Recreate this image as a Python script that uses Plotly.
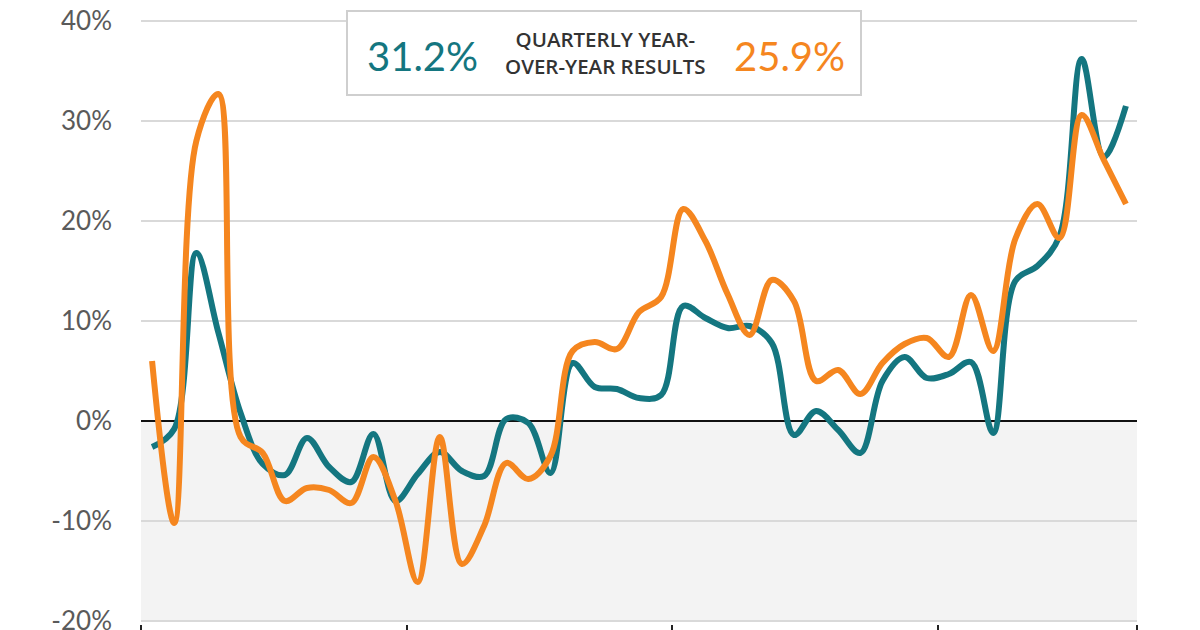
import plotly.graph_objects as go

# quarterly year-over-year change, in percent
quarters = list(range(45))

teal_values = [-2.6, -0.8, 16.8, 8.8, 0.8, -4.3, -5.4, -1.7, -4.6, -6.1,
               -1.3, -8.0, -5.3, -3.1, -5.0, -5.5, 0.2, -0.2, -5.2, 5.8,
               3.4, 3.2, 2.3, 2.6, 11.5, 10.3, 9.3, 9.5, 7.8, -1.4,
               1.0, -0.9, -3.2, 4.0, 6.4, 4.3, 4.7, 5.9, -1.2, 14.0,
               15.5, 18.5, 36.2, 26.4, 31.5]

orange_values = [6.0, -10.2, 28.0, 32.7, -1.6, -3.2, -8.0, -6.7, -6.9, -8.2,
                 -3.6, -8.0, -16.1, -1.6, -14.3, -10.5, -4.2, -5.8, -3.5, 7.0,
                 7.9, 7.2, 10.9, 12.4, 21.2, 18.0, 12.7, 8.6, 14.1, 12.0,
                 4.0, 5.1, 2.7, 5.8, 7.7, 8.3, 6.4, 12.6, 7.0, 18.2,
                 21.7, 18.3, 30.6, 26.1, 21.7]

x_ticks = [-0.5, 11.5, 23.5, 35.5, 44.5]
y_ticks = [-20, -10, 0, 10, 20, 30, 40]
y_tick_text = ["-20%", "-10%", "0%", "10%", "20%", "30%", "40%"]

teal_label = "31.2%"
orange_label = "25.9%"
header_text = "QUARTERLY YEAR-<br>OVER-YEAR RESULTS"

TEAL = "#147680"
ORANGE = "#F5861F"
FONT = "Lato"

# the page body has an 8px margin, so the margins are shifted to compensate.
# y range is padded 0.3 (3px) each side so the 40% and -20% grid lines get drawn
L, T = 133, 10
PW, PH = 996, 606

def px_x(x):
    return (x - 8 - L) / PW

def px_y(y):
    return (T + PH - (y - 8)) / PH

fig = go.Figure()

fig.add_trace(go.Scatter(x=quarters, y=teal_values, mode="lines",
                         line=dict(color=TEAL, width=6, shape="spline", smoothing=1),
                         hoverinfo="skip"))
fig.add_trace(go.Scatter(x=quarters, y=orange_values, mode="lines",
                         line=dict(color=ORANGE, width=6, shape="spline", smoothing=1),
                         hoverinfo="skip"))

# grey band under zero
fig.add_shape(type="rect", xref="paper", yref="y", x0=0, x1=1, y0=-20, y1=0,
              fillcolor="#f3f3f3", line_width=0, layer="below")

# legend box at the top
fig.add_shape(type="rect", xref="paper", yref="paper",
              x0=px_x(347), x1=px_x(861), y0=px_y(95), y1=px_y(11),
              fillcolor="white", line=dict(color="#cfcfcf", width=2), layer="above")

fig.add_annotation(text=teal_label, xref="paper", yref="paper",
                   x=px_x(422), y=px_y(56),
                   xanchor="center", yanchor="middle", showarrow=False,
                   font=dict(family=FONT, size=40, color=TEAL))
fig.add_annotation(text=orange_label, xref="paper", yref="paper",
                   x=px_x(789), y=px_y(56),
                   xanchor="center", yanchor="middle", showarrow=False,
                   font=dict(family=FONT, size=40, color=ORANGE))
fig.add_annotation(text=header_text, xref="paper", yref="paper",
                   x=px_x(605), y=px_y(53),
                   xanchor="center", yanchor="middle", showarrow=False,
                   font=dict(family="Open Sans", size=20.5, color="#333333", weight=600))

fig.update_xaxes(range=[-0.5, 44.5], showgrid=False, zeroline=False, showline=False,
                 ticks="outside", tickvals=x_ticks, ticklen=14, tickwidth=2,
                 tickcolor="#222222", showticklabels=False, automargin=False)
fig.update_yaxes(range=[-20.3, 40.3], tickvals=y_ticks, ticktext=y_tick_text,
                 showgrid=True, gridcolor="#d9d9d9", gridwidth=2,
                 zeroline=True, zerolinecolor="#111111", zerolinewidth=2,
                 ticklabelstandoff=28, ticklabeloverflow="allow", automargin=False,
                 tickfont=dict(family=FONT, size=26, color="#5a5a5a"))

fig.update_layout(width=1200, height=630, showlegend=False,
                  margin=dict(l=L, r=1200 - L - PW, t=T, b=630 - T - PH),
                  plot_bgcolor="white", paper_bgcolor="white")

fig.write_html("out.html")
